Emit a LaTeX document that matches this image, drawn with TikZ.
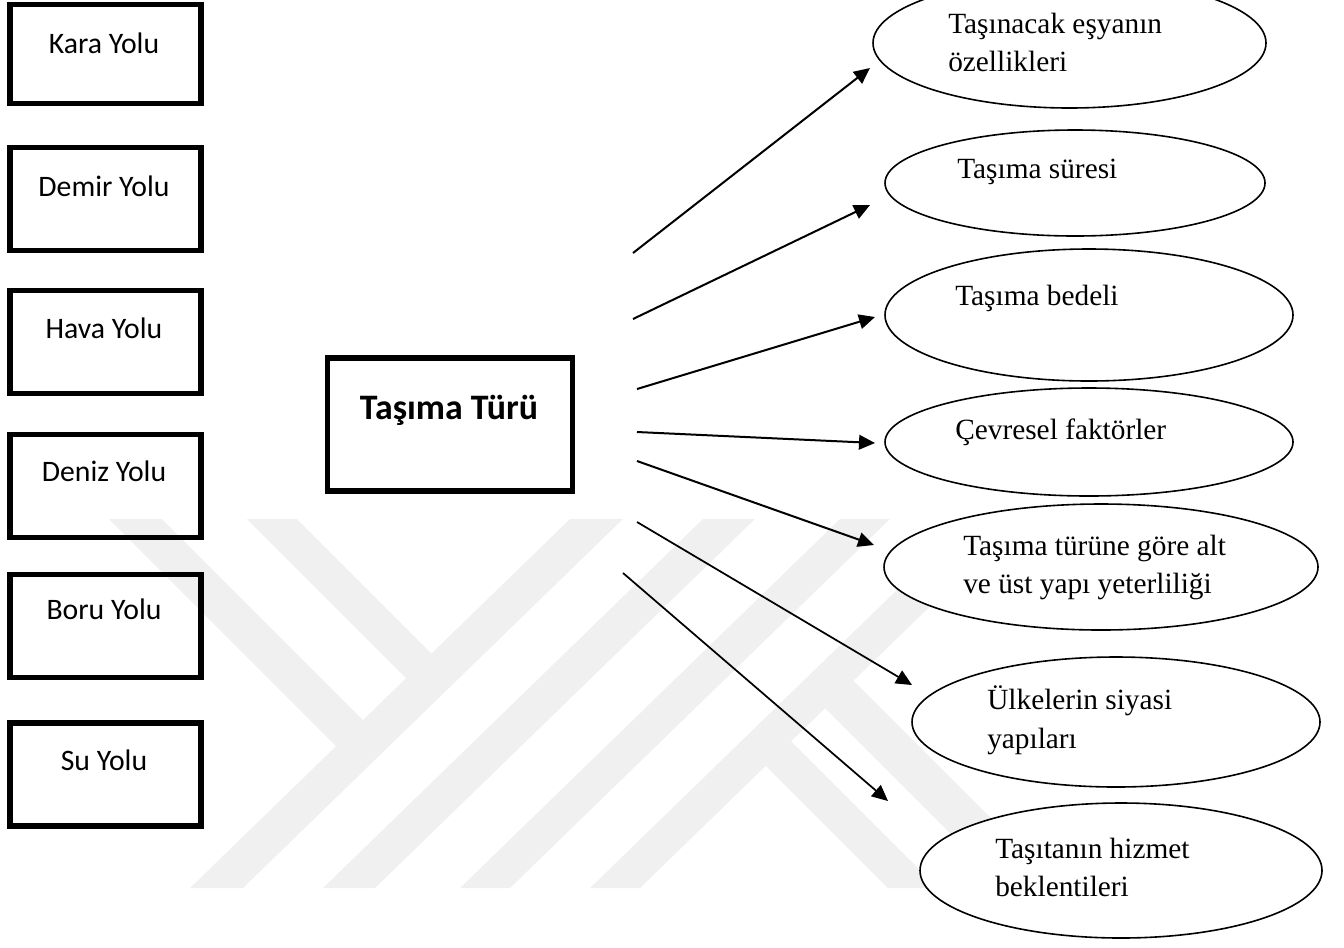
\documentclass[tikz,border=0pt]{standalone}
\usepackage{fontspec}
\setmainfont{Liberation Serif}
\newfontfamily\boxfont{Carlito}
\usetikzlibrary{arrows.meta,shapes.geometric}
\begin{document}
\begin{tikzpicture}[x=0.75pt,y=-0.75pt,
  wmband/.style={fill=black!6,draw=none},
  modebox/.style={draw,line width=3.8pt,minimum width=143.25pt,minimum height=77.25pt,inner sep=0pt},
  mainbox/.style={draw,line width=3.8pt,minimum width=183.75pt,minimum height=99.75pt,inner sep=0pt},
  modetext/.style={inner sep=0pt,font=\boxfont\fontsize{22.3pt}{26pt}\selectfont},
  maintext/.style={inner sep=0pt,font=\boxfont\bfseries\fontsize{26.9pt}{31pt}\selectfont},
  factor/.style={draw,fill=white,ellipse,line width=1.2pt,inner sep=0pt},
  factortext/.style={inner sep=0pt,anchor=west,align=left,font=\fontsize{22pt}{29pt}\selectfont},
  link/.style={line width=1.5pt,-{Triangle[length=12pt,width=11pt]}},
  thinlink/.style={line width=1.3pt,-{Triangle[length=12pt,width=11pt]}}]

\clip (0,0) rectangle (1344,947);

% faint background emblem made of diagonal stripes
\fill[wmband] (190,888) -- (243,888) -- (623,519) -- (570,519) -- cycle;
\fill[wmband] (323,888) -- (375,888) -- (755,519) -- (703,519) -- cycle;
\fill[wmband] (460,888) -- (510,888) -- (890,519) -- (840,519) -- cycle;
\fill[wmband] (590,888) -- (640,888) -- (1020,519) -- (970,519) -- cycle;
\fill[wmband] (109,519) -- (162,519) -- (380,737) -- (353,763) -- cycle;
\fill[wmband] (247,519) -- (297,519) -- (445,667) -- (420,692) -- cycle;
\fill[wmband] (750,750) -- (775,725) -- (938,888) -- (888,888) -- cycle;
\fill[wmband] (810,693) -- (835,662) -- (1061,888) -- (1005,888) -- cycle;

% transport modes
\node[modebox,minimum height=74.25pt] (kara) at (105.5,54) {};
\node[modebox] (demir) at (105.5,199) {};
\node[modebox] (hava) at (105.5,342) {};
\node[modebox] (deniz) at (105.5,486) {};
\node[modebox] (boru) at (105.5,626) {};
\node[modebox] (su) at (105.5,774.5) {};
\node[modetext] (karat) at (104,43) {Kara Yolu};
\node[modetext] (demirt) at (104,186) {Demir Yolu};
\node[modetext] (havat) at (104,328) {Hava Yolu};
\node[modetext] (denizt) at (104,471) {Deniz Yolu};
\node[modetext] (borut) at (104,609) {Boru Yolu};
\node[modetext] (sut) at (104,760) {Su Yolu};

% central box
\node[mainbox] (tur) at (450,424.5) {};
\node[maintext] (turt) at (449,410) {Taşıma Türü};

% factors
\node[factor,minimum width=294.75pt,minimum height=97.5pt] (f1) at (1069.5,43) {};
\node[factor,minimum width=285pt,minimum height=79.5pt] (f2) at (1075,183) {};
\node[factor,minimum width=306pt,minimum height=99pt] (f3) at (1089,315) {};
\node[factor,minimum width=306pt,minimum height=81pt] (f4) at (1089,442) {};
\node[factor,minimum width=325.5pt,minimum height=94.5pt] (f5) at (1101,567) {};
\node[factor,minimum width=306pt,minimum height=97.5pt] (f6) at (1116,722) {};
\node[factor,minimum width=301.5pt,minimum height=101.25pt] (f7) at (1121,870.5) {};

\node[factortext] (f1t) at (948,42.5) {Taşınacak eşyanın\\özellikleri};
\node[factortext] (f2t) at (957,172) {Taşıma süresi};
\node[factortext] (f3t) at (955,298) {Taşıma bedeli};
\node[factortext] (f4t) at (955,432) {Çevresel faktörler};
\node[factortext] (f5t) at (963,567.5) {Taşıma türüne göre alt\\ve üst yapı yeterliliği};
\node[factortext] (f6t) at (987,720) {Ülkelerin siyasi\\yapıları};
\node[factortext] (f7t) at (995,867.5) {Taşıtanın hizmet\\beklentileri};

% arrow ends
\coordinate (s1) at (633,253); \coordinate (t1) at (870,68);
\coordinate (s2) at (633,319); \coordinate (t2) at (870,205);
\coordinate (s3) at (637,389); \coordinate (t3) at (875,317);
\coordinate (s4) at (637,432); \coordinate (t4) at (875,443);
\coordinate (s5) at (637,461); \coordinate (t5) at (874,545);
\coordinate (s6) at (637,522); \coordinate (t6) at (912,685);
\coordinate (s7) at (623,573); \coordinate (t7) at (888,801);

\draw[link] (s1) -- (t1);
\draw[link] (s2) -- (t2);
\draw[link] (s3) -- (t3);
\draw[link] (s4) -- (t4);
\draw[link] (s5) -- (t5);
\draw[thinlink] (s6) -- (t6);
\draw[thinlink] (s7) -- (t7);
\end{tikzpicture}
\end{document}
